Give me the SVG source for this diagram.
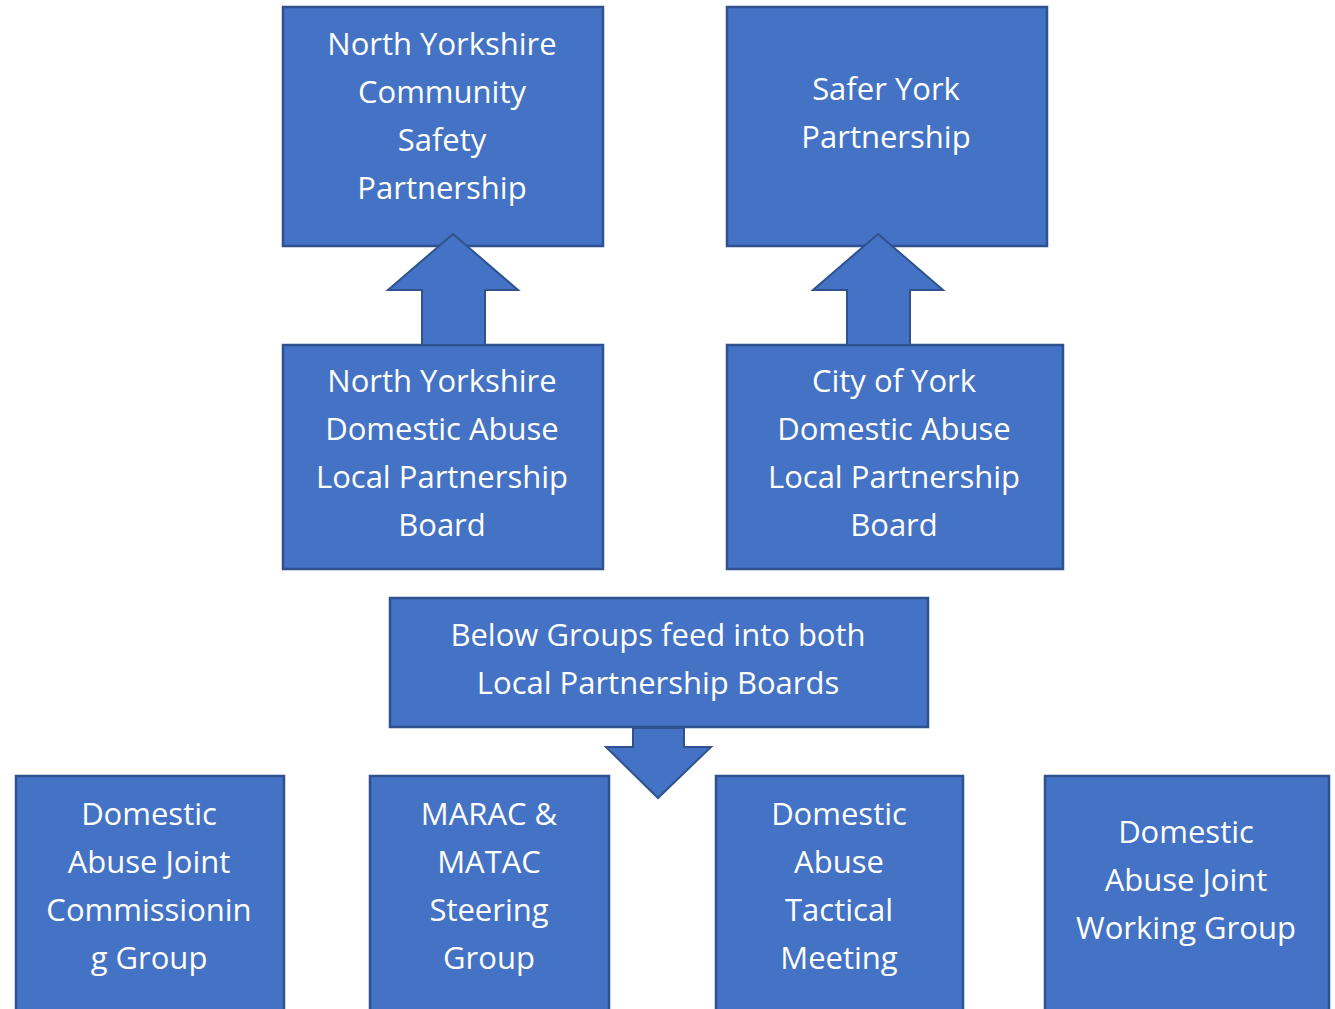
<svg xmlns="http://www.w3.org/2000/svg" width="1335" height="1009" viewBox="0 0 1335 1009">
<style>
.box{fill:#4472C4;stroke:#2F528F;stroke-width:2.5}
.arr{fill:#4472C4;stroke:#2F528F;stroke-width:2;stroke-linejoin:miter}
.t{fill:#FFFFFF;font-family:"Open Sans","Liberation Sans",sans-serif;font-size:31px;text-anchor:middle}
</style>
<rect width="1335" height="1009" fill="#FFFFFF"/>
<g id="ny-csp">
<rect class="box" x="283" y="7" width="320" height="239"/>
<text class="t" x="442" y="55">North Yorkshire</text>
<text class="t" x="442" y="103">Community</text>
<text class="t" x="442" y="151">Safety</text>
<text class="t" x="442" y="199">Partnership</text>
</g>
<g id="safer-york">
<rect class="box" x="727" y="7" width="320" height="239"/>
<text class="t" x="886" y="100">Safer York</text>
<text class="t" x="886" y="148">Partnership</text>
</g>
<g id="ny-dalpb">
<rect class="box" x="283" y="345" width="320" height="224"/>
<text class="t" x="442" y="392">North Yorkshire</text>
<text class="t" x="442" y="440">Domestic Abuse</text>
<text class="t" x="442" y="488">Local Partnership</text>
<text class="t" x="442" y="536">Board</text>
</g>
<g id="coy-dalpb">
<rect class="box" x="727" y="345" width="336" height="224"/>
<text class="t" x="894" y="392">City of York</text>
<text class="t" x="894" y="440">Domestic Abuse</text>
<text class="t" x="894" y="488">Local Partnership</text>
<text class="t" x="894" y="536">Board</text>
</g>
<g id="below-groups">
<rect class="box" x="390" y="598" width="538" height="129"/>
<text class="t" x="658" y="646">Below Groups feed into both</text>
<text class="t" x="658" y="694">Local Partnership Boards</text>
</g>
<g id="dajcg">
<rect class="box" x="16" y="776" width="268" height="250"/>
<text class="t" x="149" y="825">Domestic</text>
<text class="t" x="149" y="873">Abuse Joint</text>
<text class="t" x="149" y="921">Commissionin</text>
<text class="t" x="149" y="969">g Group</text>
</g>
<g id="marac">
<rect class="box" x="370" y="776" width="239" height="250"/>
<text class="t" x="489" y="825">MARAC &amp;</text>
<text class="t" x="489" y="873">MATAC</text>
<text class="t" x="489" y="921">Steering</text>
<text class="t" x="489" y="969">Group</text>
</g>
<g id="datm">
<rect class="box" x="716" y="776" width="247" height="250"/>
<text class="t" x="839" y="825">Domestic</text>
<text class="t" x="839" y="873">Abuse</text>
<text class="t" x="839" y="921">Tactical</text>
<text class="t" x="839" y="969">Meeting</text>
</g>
<g id="dajwg">
<rect class="box" x="1045" y="776" width="284" height="250"/>
<text class="t" x="1186" y="843">Domestic</text>
<text class="t" x="1186" y="891">Abuse Joint</text>
<text class="t" x="1186" y="939">Working Group</text>
</g>
<g id="connectors">
<polygon class="arr" points="453,234 518,290 485,290 485,345 422,345 422,290 388,290"/>
<polygon class="arr" points="878,234 943,290 910,290 910,345 847,345 847,290 813,290"/>
<polygon class="arr" points="633,728 684,728 684,747 711,747 658,798 606,747 633,747"/>
</g>
</svg>
